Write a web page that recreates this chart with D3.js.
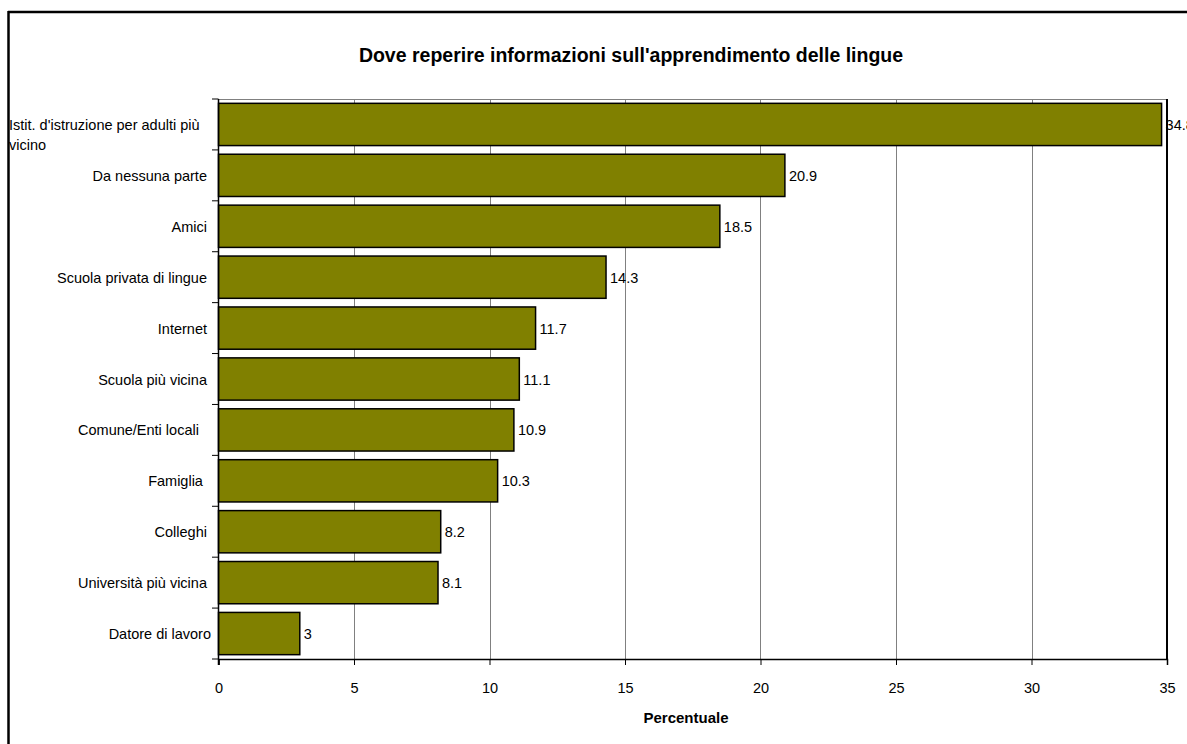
<!DOCTYPE html>
<html>
<head>
<meta charset="utf-8">
<script src="https://cdn.jsdelivr.net/npm/d3@7"></script>
<style>
  body { margin: 0; background: #fff; }
  text { font-family: "Liberation Sans", Arial, sans-serif; white-space: pre; }
</style>
</head>
<body>
<script>
// categories top to bottom (trailing spaces as in the source sheet)
var categories = ["Istit. d'istruzione per adulti più vicino", "Da nessuna parte ", "Amici ", "Scuola privata di lingue ",
  "Internet ", "Scuola più vicina ", "Comune/Enti locali   ", "Famiglia  ", "Colleghi ", "Università più vicina ", "Datore di lavoro"];
var values = [34.8, 20.9, 18.5, 14.3, 11.7, 11.1, 10.9, 10.3, 8.2, 8.1, 3];
var xTicks = [0, 5, 10, 15, 20, 25, 30, 35];

var w = 1187, h = 744;
var svg = d3.select("body").append("svg")
    .attr("width", w)
    .attr("height", h);

var x = d3.scaleLinear().domain([0, 35]).range([218.5, 1167]);
var y = d3.scaleBand().domain(categories).range([99, 659])
    .paddingInner(0.17).paddingOuter(0.085);

// title
svg.append("text")
    .attr("x", 631).attr("y", 62)
    .attr("text-anchor", "middle")
    .style("font-size", "19.5px").style("font-weight", "bold")
    .text("Dove reperire informazioni sull'apprendimento delle lingue");

// gridlines
svg.append("g").selectAll("line")
    .data(xTicks.slice(1, -1))
    .enter().append("line")
    .attr("x1", function(d){ return Math.round(x(d)) + 0.5; })
    .attr("x2", function(d){ return Math.round(x(d)) + 0.5; })
    .attr("y1", 99).attr("y2", 659)
    .style("stroke", "#808080");

// top plot edge
svg.append("line")
    .attr("x1", 218).attr("x2", 1167).attr("y1", 99.5).attr("y2", 99.5)
    .style("stroke", "#808080");

// bars
svg.append("g").selectAll("rect")
    .data(values)
    .enter().append("rect")
    .attr("x", x(0))
    .attr("y", function(d, i){ return y(categories[i]); })
    .attr("width", function(d){ return x(d) - x(0); })
    .attr("height", y.bandwidth())
    .style("fill", "#808000")
    .style("stroke", "#000")
    .style("stroke-width", 1.5);

// right plot edge
svg.append("line")
    .attr("x1", 1167).attr("x2", 1167).attr("y1", 99).attr("y2", 659)
    .style("stroke", "#000").style("stroke-width", 2);

// value labels
svg.append("g").selectAll("text")
    .data(values)
    .enter().append("text")
    .attr("x", function(d){ return x(d) + 4; })
    .attr("y", function(d, i){ return y(categories[i]) + y.bandwidth() / 2 + 5.5; })
    .style("font-size", "14.5px")
    .text(function(d){ return d; });

// x axis
var xAxis = d3.axisBottom(x).tickValues(xTicks).tickSize(6).tickPadding(18);
var gx = svg.append("g").attr("transform", "translate(0,659)").call(xAxis);
gx.select(".domain").style("stroke", "#000").style("stroke-width", 1.5);
gx.selectAll("text").style("font-size", "14.5px").style("font-family", "Liberation Sans, Arial, sans-serif");

// y axis (ticks at band boundaries)
var bounds = d3.range(categories.length + 1).map(function(i){ return 99 + i * (560 / categories.length); });
svg.append("line")
    .attr("x1", 218.5).attr("x2", 218.5).attr("y1", 99).attr("y2", 665)
    .style("stroke", "#000").style("stroke-width", 1.5);
svg.append("g").selectAll("line")
    .data(bounds)
    .enter().append("line")
    .attr("x1", 212).attr("x2", 218.5)
    .attr("y1", function(d){ return d; }).attr("y2", function(d){ return d; })
    .style("stroke", "#000");

// category labels
svg.append("g").selectAll("text")
    .data(categories.slice(1))
    .enter().append("text")
    .attr("x", 211)
    .attr("y", function(d){ return y(d) + y.bandwidth() / 2 + 5.5; })
    .attr("text-anchor", "end")
    .style("font-size", "14.5px")
    .text(function(d){ return d; });

// first label wraps in two lines
var first = svg.append("text")
    .attr("x", 9).attr("y", 130)
    .style("font-size", "14.5px");
first.append("tspan").attr("x", 9).attr("y", 130).text("Istit. d'istruzione per adulti più");
first.append("tspan").attr("x", 9).attr("y", 150).text("vicino");

// axis title
svg.append("text")
    .attr("x", 686).attr("y", 723)
    .attr("text-anchor", "middle")
    .style("font-size", "15px").style("font-weight", "bold")
    .text("Percentuale");

// chart frame (top and left edges visible)
svg.append("line")
    .attr("x1", 8).attr("x2", w).attr("y1", 12).attr("y2", 12)
    .style("stroke", "#000").style("stroke-width", 2.5);
svg.append("line")
    .attr("x1", 8.5).attr("x2", 8.5).attr("y1", 11).attr("y2", h)
    .style("stroke", "#000").style("stroke-width", 2.5);
</script>
</body>
</html>
